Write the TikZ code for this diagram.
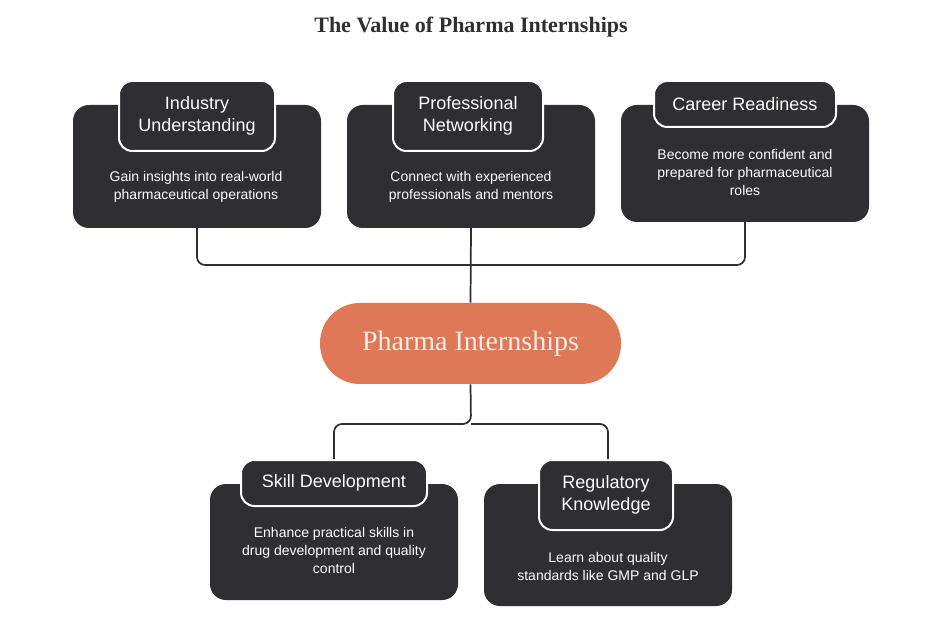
\documentclass[tikz,border=0pt]{standalone}
\usepackage{fontspec}
\setmainfont{Liberation Sans}
\newfontfamily\serifx{Liberation Serif}
\begin{document}
\begin{tikzpicture}[x=0.75pt,y=-0.75pt,
 box/.style={fill=boxc,rounded corners=12pt},
 tab/.style={fill=boxc,draw=white,line width=1.5pt,rounded corners=10pt,text=white,font=\fontsize{13.5}{16}\selectfont,align=center},
 desc/.style={text=white,font=\fontsize{10.5}{13.5}\selectfont,align=center},
 conn/.style={draw=boxc,line width=1.3pt,rounded corners=6pt}]
\definecolor{boxc}{HTML}{2E2E33}
\definecolor{orangec}{HTML}{DF7857}
\useasboundingbox[fill=white] (0,0) rectangle (942,623);
\node[font=\serifx\bfseries\fontsize{16.5}{20}\selectfont,text=boxc] (title) at (471,27) {The Value of Pharma Internships};
% connectors
\coordinate (a1) at (197,228); \coordinate (a3) at (745,222);
\draw[conn] (a1) |- (471,265) -| (a3);
\coordinate (a2) at (471,228);
\coordinate (b1) at (334,460); \coordinate (b2) at (608,460);
% boxes
\fill[box] (73,105) rectangle (321,228);
\fill[box] (347,105) rectangle (595,228);
\fill[box] (621,105) rectangle (869,222);
\fill[box] (210,484) rectangle (458,600);
\fill[box] (484,484) rectangle (732,606);
\node[fill=orangec,rounded corners=30pt,minimum width=301*0.75pt,minimum height=81*0.75pt,text=white!88!orangec,font=\serifx\fontsize{21}{24}\selectfont] (c) at (470.5,343.5) {Pharma Internships};
\draw[conn] (a2) -- (c.north);
\draw[conn] (c.south) -- (471,424) -| (b1);
\draw[conn] (471,424) -| (b2);
% tabs
\node[tab,minimum width=156*0.75pt,minimum height=70*0.75pt] (t1) at (197,116) {Industry\\Understanding};
\node[tab,minimum width=150*0.75pt,minimum height=70*0.75pt] (t2) at (468,116) {Professional\\Networking};
\node[tab,minimum width=182*0.75pt,minimum height=46*0.75pt] (t3) at (745,104) {Career Readiness};
\node[tab,minimum width=186*0.75pt,minimum height=46*0.75pt] (t4) at (334,483) {Skill Development};
\node[tab,minimum width=134*0.75pt,minimum height=70*0.75pt] (t5) at (606,495) {Regulatory\\Knowledge};
% descriptions
\node[desc] (d1) at (196,187) {Gain insights into real-world\\pharmaceutical operations};
\node[desc] (d2) at (471,187) {Connect with experienced\\professionals and mentors};
\node[desc] (d3) at (745,172) {Become more confident and\\prepared for pharmaceutical\\roles};
\node[desc] (d4) at (334,550) {Enhance practical skills in\\drug development and quality\\control};
\node[desc] (d5) at (608,566) {Learn about quality\\standards like GMP and GLP};
\end{tikzpicture}
\end{document}
